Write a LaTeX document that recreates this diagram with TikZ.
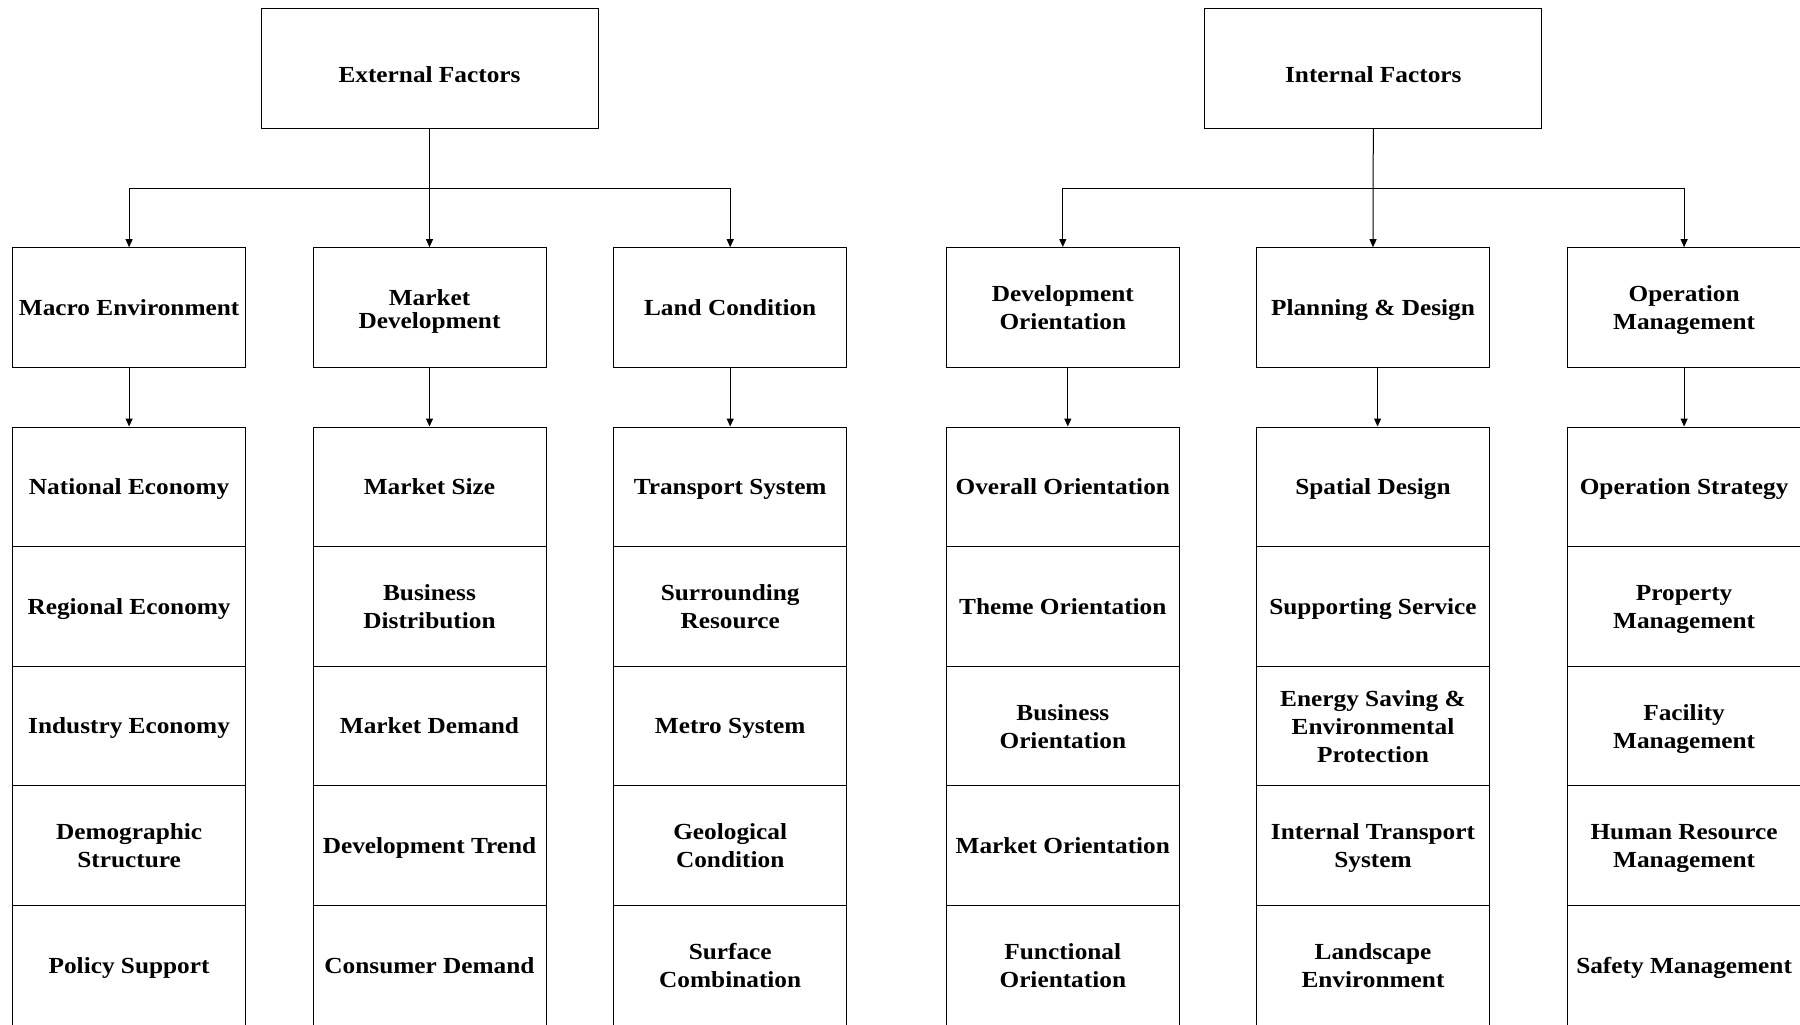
\documentclass[tikz,border=0pt]{standalone}
\usepackage{fontspec}
\newfontfamily\labfont[FakeStretch=1.1]{Liberation Serif}
\usetikzlibrary{arrows.meta,calc}
\newcommand\lstrut{\rule[-6pt]{0pt}{27.7pt}}
\newcommand\ms{\rule{0pt}{22.5pt}}
\newcommand\tstrut{\rule[-2pt]{0pt}{31.2pt}}
\begin{document}
\begin{tikzpicture}[x=1pt,y=-1pt,
 box/.style={draw=black, line width=1pt, rectangle, inner sep=0pt, align=center,
   font=\labfont\bfseries\fontsize{23}{28}\selectfont,
   minimum width=233pt, minimum height=119.6pt,
   execute at begin node=\lstrut, execute at end node=\lstrut},
 topbox/.style={draw=black, line width=1pt, rectangle, inner sep=0pt, align=center,
   font=\labfont\bfseries\fontsize{23}{28}\selectfont,
   minimum width=337pt, minimum height=119pt,
   execute at begin node=\tstrut, execute at end node=\tstrut},
 arr/.style={-{Triangle[length=8pt,width=7pt]}, line width=1pt}]
\useasboundingbox (0,0) rectangle (1800,1025);

% top level
\node[topbox] (ext) at (429.5,68.5) {External Factors};
\node[topbox] (int) at (1373.3,68.5) {Internal Factors};

% second level
\node[box] (m1) at (129.1,307.5) {Macro Environment};
\node[box] (m2) at (429.5,307.5) {\rule{0pt}{25.2pt}Market\\[-5pt]Development};
\node[box] (m3) at (730.2,307.5) {Land Condition};
\node[box] (n1) at (1062.8,307.3) {\ms Development\\Orientation};
\node[box] (n2) at (1373.0,307.5) {Planning \& Design};
\node[box] (n3) at (1684.1,307.5) {\ms Operation\\Management};

% third level
\node[box] (a1) at (129.1,486.8) {National Economy};
\node[box] (a2) at (129.1,606.4) {Regional Economy};
\node[box] (a3) at (129.1,726.0) {Industry Economy};
\node[box] (a4) at (129.1,845.6) {\ms Demographic\\Structure};
\node[box] (a5) at (129.1,965.2) {Policy Support};

\node[box] (b1) at (429.5,486.8) {Market Size};
\node[box] (b2) at (429.5,606.4) {\ms Business\\Distribution};
\node[box] (b3) at (429.5,726.0) {Market Demand};
\node[box] (b4) at (429.5,845.6) {Development Trend};
\node[box] (b5) at (429.5,965.2) {Consumer Demand};

\node[box] (c1) at (730.2,486.8) {Transport System};
\node[box] (c2) at (730.2,606.4) {\ms Surrounding\\Resource};
\node[box] (c3) at (730.2,726.0) {Metro System};
\node[box] (c4) at (730.2,845.6) {\ms Geological\\Condition};
\node[box] (c5) at (730.2,965.2) {\ms Surface\\Combination};

\node[box] (d1) at (1062.8,486.8) {Overall Orientation};
\node[box] (d2) at (1062.8,606.4) {Theme Orientation};
\node[box] (d3) at (1062.8,726.0) {\ms Business\\Orientation};
\node[box] (d4) at (1062.8,845.6) {Market Orientation};
\node[box] (d5) at (1062.8,965.2) {\ms Functional\\Orientation};

\node[box] (e1) at (1373.0,486.8) {Spatial Design};
\node[box] (e2) at (1373.0,606.4) {Supporting Service};
\node[box] (e3) at (1373.0,726.0) {\ms Energy Saving \&\\Environmental\\Protection};
\node[box] (e4) at (1373.0,845.6) {\ms Internal Transport\\System};
\node[box] (e5) at (1373.0,965.2) {\ms Landscape\\Environment};

\node[box] (f1) at (1684.1,486.8) {Operation Strategy};
\node[box] (f2) at (1684.1,606.4) {\ms Property\\Management};
\node[box] (f3) at (1684.1,726.0) {\ms Facility\\Management};
\node[box] (f4) at (1684.1,845.6) {\ms Human Resource\\Management};
\node[box] (f5) at (1684.1,965.2) {Safety Management};

% buses
\coordinate (ebus) at (429.5,188.3);
\coordinate (ibus) at (1373.3,188.3);

\draw[arr] (ext.south) -- (m2.north);
\draw[arr] (ebus) -| (m1.north);
\draw[arr] (ebus) -| (m3.north);

\draw[arr] (int.south) -- (n2.north);
\draw[arr] (ibus) -| (n1.north);
\draw[arr] (ibus) -| (n3.north);

% level 2 to level 3
\draw[arr] (m1.south) -- (a1.north);
\draw[arr] (m2.south) -- (b1.north);
\draw[arr] (m3.south) -- (c1.north);
\draw[arr] ([xshift=5pt]n1.south) -- ([xshift=5pt]d1.north);
\draw[arr] ([xshift=4.6pt]n2.south) -- ([xshift=4.6pt]e1.north);
\draw[arr] (n3.south) -- (f1.north);
\end{tikzpicture}
\end{document}
